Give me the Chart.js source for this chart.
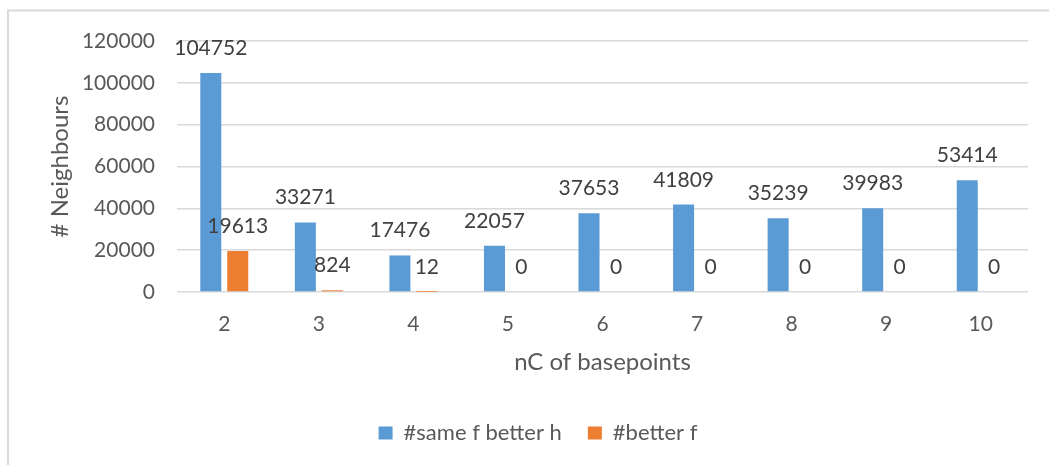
<!DOCTYPE html>
<html>
<head>
<meta charset="utf-8">
<script src="https://cdn.jsdelivr.net/npm/chart.js@4.4.1/dist/chart.umd.min.js"></script>
<style>
  html, body { margin: 0; padding: 0; background: #ffffff; }
  #wrap { width: 1049px; height: 465px; position: relative; }
</style>
</head>
<body>
<div id="wrap"><canvas id="chart"></canvas></div>
<script>
// Number of base points on the x axis
const categories = ['2', '3', '4', '5', '6', '7', '8', '9', '10'];

// Neighbour counts per series
const sameFBetterH = [104752, 33271, 17476, 22057, 37653, 41809, 35239, 39983, 53414];
const betterF = [19613, 824, 12, 0, 0, 0, 0, 0, 0];

const seriesNames = ['#same f better h', '#better f'];
const yTicks = [0, 20000, 40000, 60000, 80000, 100000, 120000];

const FONT = 'Lato, "Open Sans", "DejaVu Sans", sans-serif';
const TEXT = '#595959';

// Thin frame along the top and left of the canvas
const framePlugin = {
  id: 'frame',
  beforeDraw(chart) {
    const ctx = chart.ctx;
    ctx.save();
    ctx.strokeStyle = '#d9d9d9';
    ctx.lineWidth = 2;
    ctx.beginPath();
    ctx.moveTo(8, chart.height);
    ctx.lineTo(8, 10.5);
    ctx.lineTo(chart.width, 10.5);
    ctx.stroke();
    ctx.restore();
  }
};

// Nudge the legend row a little to the right of centre
const legendShift = {
  id: 'legendShift',
  afterLayout(chart) {
    const dx = 24;
    chart.legend.left += dx;
    chart.legend.right += dx;
  }
};

// Value labels above every bar
const valueLabels = {
  id: 'valueLabels',
  afterDatasetsDraw(chart) {
    const ctx = chart.ctx;
    ctx.save();
    ctx.font = '21px ' + FONT;
    ctx.fillStyle = '#404040';
    ctx.textAlign = 'center';
    ctx.textBaseline = 'alphabetic';
    chart.data.datasets.forEach((ds, i) => {
      const meta = chart.getDatasetMeta(i);
      meta.data.forEach((bar, j) => {
        ctx.fillText(String(ds.data[j]), bar.x, bar.y - 18);
      });
    });
    ctx.restore();
  }
};

new Chart(document.getElementById('chart'), {
  type: 'bar',
  data: {
    labels: categories,
    datasets: [
      { label: seriesNames[0], data: sameFBetterH, backgroundColor: '#5b9bd5',
        categoryPercentage: 0.57, barPercentage: 0.78 },
      { label: seriesNames[1], data: betterF, backgroundColor: '#ed7d31',
        categoryPercentage: 0.57, barPercentage: 0.78 }
    ]
  },
  options: {
    responsive: true,
    maintainAspectRatio: false,
    animation: false,
    devicePixelRatio: 1,
    layout: { padding: { left: 0, right: 21, top: 41, bottom: 11 } },
    plugins: {
      tooltip: { enabled: false },
      legend: {
        position: 'bottom',
        labels: {
          font: { family: FONT, size: 22 },
          color: TEXT,
          boxWidth: 14,
          boxHeight: 13,
          padding: 26
        }
      }
    },
    scales: {
      x: {
        grid: { display: false, drawTicks: false },
        border: { display: false },
        ticks: { color: TEXT, font: { family: FONT, size: 21 }, padding: 20 },
        title: { display: true, text: 'nC of basepoints', color: TEXT,
                 font: { family: FONT, size: 24 }, padding: { top: 8, bottom: 19 } },
        afterFit(scale) { scale.height = 104; }
      },
      y: {
        min: 0,
        max: 120000,
        afterBuildTicks(scale) { scale.ticks = yTicks.map(v => ({ value: v })); },
        grid: { color: '#d9d9d9', lineWidth: 1.5, drawTicks: false },
        border: { display: false },
        ticks: { color: TEXT, font: { family: FONT, size: 21 }, padding: 22,
                 callback: v => String(v) },
        title: { display: true, text: '# Neighbours', color: TEXT,
                 font: { family: FONT, size: 24 }, padding: { top: 46, bottom: 0 } },
        afterFit(scale) { scale.width = 177; }
      }
    }
  },
  plugins: [framePlugin, legendShift, valueLabels]
});
</script>
</body>
</html>
